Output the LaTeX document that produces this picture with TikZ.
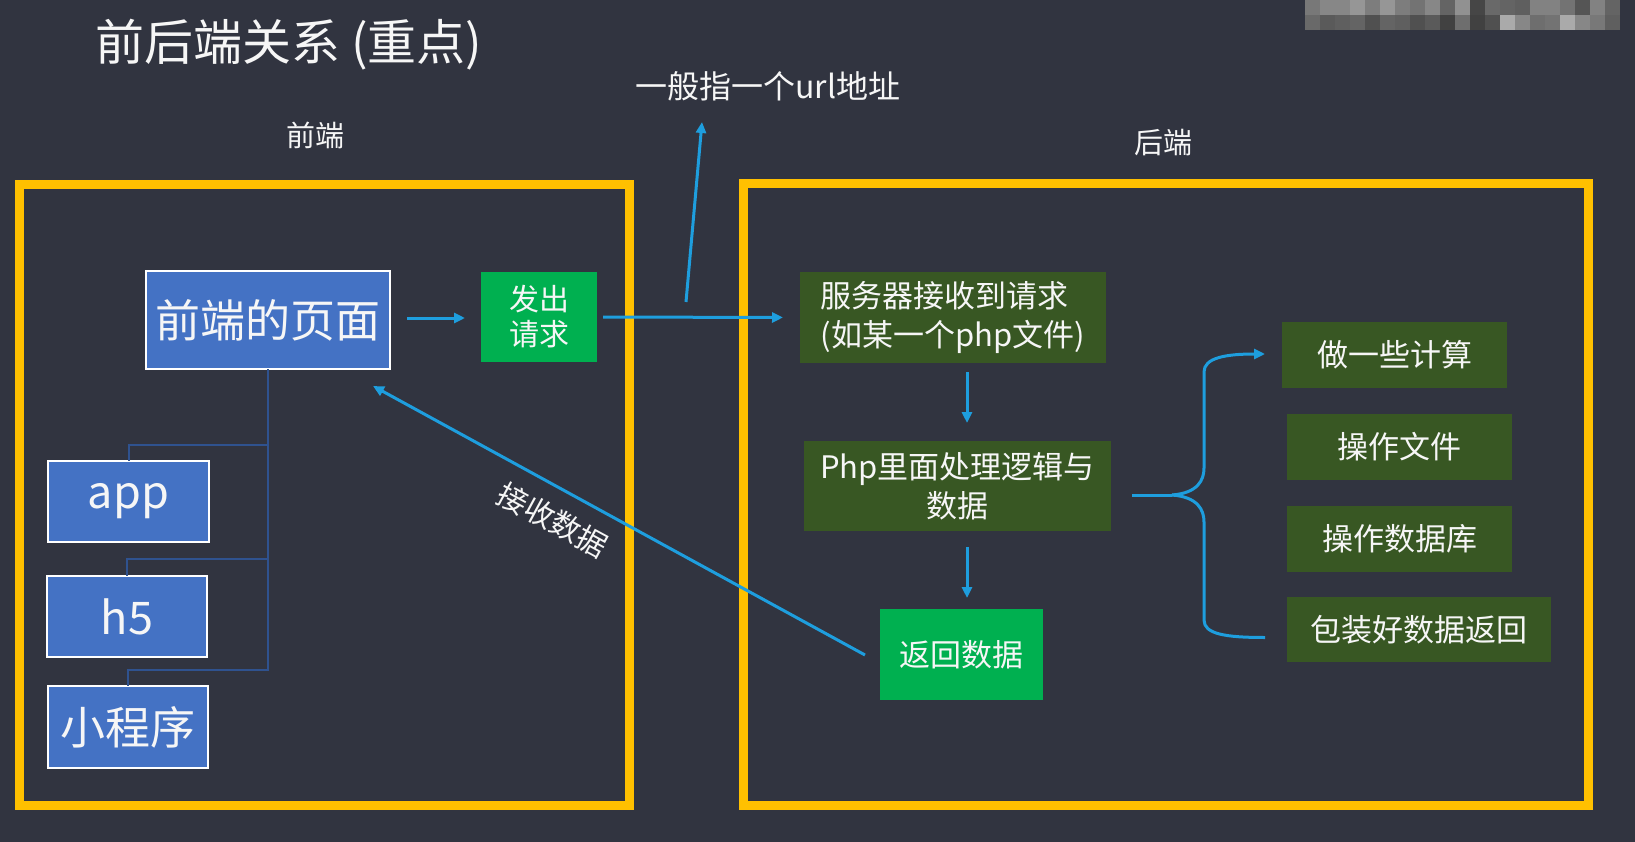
\documentclass[tikz,border=0pt]{standalone}
\usepackage{fontspec}
\setmainfont{Noto Sans CJK SC}
\usetikzlibrary{arrows.meta,calc}

\definecolor{bg}{RGB}{49,52,64}
\definecolor{frame}{RGB}{255,192,0}
\definecolor{pageblue}{RGB}{68,114,196}
\definecolor{brightgreen}{RGB}{0,176,80}
\definecolor{darkgreen}{RGB}{56,87,35}
\definecolor{flow}{RGB}{30,158,222}
\definecolor{treeblue}{RGB}{47,82,143}
\definecolor{ink}{RGB}{246,246,246}

\tikzset{
  panel/.style={draw=frame, line width=9pt},
  box/.style={inner sep=0pt, outer sep=0pt, text=ink, align=center},
  bluebox/.style={box, fill=pageblue, draw=white, line width=2.5pt,
    font=\fontsize{45}{54}\selectfont},
  greenbox/.style={box, fill=brightgreen, font=\fontsize{31}{38}\selectfont},
  darkbox/.style={box, fill=darkgreen, font=\fontsize{31}{39}\selectfont},
  caption/.style={inner sep=0pt, text=ink},
  flowline/.style={draw=flow, line width=3pt},
  arrow/.style={flowline, -{Triangle[length=11pt,width=10pt]}},
  tree/.style={draw=treeblue, line width=2pt},
}

\begin{document}
\begin{tikzpicture}[x=1pt,y=-1pt]
  \useasboundingbox (0,0) rectangle (1635,842);
  \fill[bg] (0,0) rectangle (1635,842);

  % mosaic patch in the top right corner
  \foreach \g [count=\i from 0] in {120,135,135,150,125,150,125,115,135,100,145,70,105,100,95,130,130,115,85,130,100}{
    \definecolor{mosaic}{RGB}{\g,\g,\g}
    \fill[mosaic] (1305+15*\i,0) rectangle ++(15,15);
  }
  \foreach \g [count=\i from 0] in {105,90,95,100,80,100,95,80,90,65,110,65,80,170,135,110,115,170,135,120,95}{
    \definecolor{mosaic}{RGB}{\g,\g,\g}
    \fill[mosaic] (1305+15*\i,15) rectangle ++(15,15);
  }

  % the two panels
  \draw[panel] (19,185) rectangle (629,805);
  \draw[panel] (743,184) rectangle (1588,805);

  % headings
  \node[caption, anchor=west, font=\fontsize{49}{58}\selectfont] (title) at (95,45) {前后端关系 (重点)};
  \node[caption, font=\fontsize{32}{38}\selectfont] (url) at (768,86) {一般指一个url地址};
  \node[caption, font=\fontsize{29}{35}\selectfont] (fe) at (315,135) {前端};
  \node[caption, font=\fontsize{29}{35}\selectfont] (be) at (1163,143) {后端};

  % front end
  \node[bluebox, minimum width=244pt, minimum height=98pt] (page) at (268,320) {前端的页面};
  \node[bluebox, minimum width=161pt, minimum height=81pt] (app) at (128.5,501.5) {app};
  \node[bluebox, minimum width=160pt, minimum height=81pt] (h5) at (127,616.5) {h5};
  \node[bluebox, minimum width=160pt, minimum height=82pt] (mp) at (128,727) {小程序};
  \node[greenbox, font=\fontsize{30}{35}\selectfont, minimum width=116pt, minimum height=90pt] (send) at (539,317) {发出\\请求};

  % back end
  \node[darkbox, align=left, minimum width=306pt, minimum height=91pt] (server) at (953,317.5) {服务器接收到请求\\(如某一个php文件)};
  \node[darkbox, minimum width=307pt, minimum height=90pt] (php) at (957.5,486) {Php里面处理逻辑与\\数据};
  \node[greenbox, minimum width=163pt, minimum height=91pt] (ret) at (961.5,654.5) {返回数据};
  \node[darkbox, minimum width=225pt, minimum height=66pt] (compute) at (1394.5,355) {做一些计算};
  \node[darkbox, minimum width=225pt, minimum height=66pt] (files) at (1399.5,447) {操作文件};
  \node[darkbox, minimum width=225pt, minimum height=66pt] (db) at (1399.5,539) {操作数据库};
  \node[darkbox, minimum width=264pt, minimum height=65pt] (pack) at (1419,629.5) {包装好数据返回};

  % page tree
  \draw[tree] (page.south) |- ($(app.north)+(0,-16)$) -- (app.north);
  \draw[tree] (page.south) |- ($(h5.north)+(0,-17)$) -- (h5.north);
  \draw[tree] (page.south) |- ($(mp.north)+(0,-16)$) -- (mp.north);

  % request flow
  \draw[arrow] ($(page.east)+(17,-2)$) -- ($(send.west)+(-16,1)$);
  \draw[arrow] ($(send.east)+(6,0)$) -- ($(server.west)+(-17,0)$);
  \coordinate (urlfoot) at (686,302);
  \coordinate (urltip) at (702,122);
  \draw[arrow] (urlfoot) -- (urltip);
  \draw[arrow] ($(server.south)+(14,9)$) -- ($(php.north)+(9.5,-18)$);
  \draw[arrow] ($(php.south)+(9.5,16)$) -- ($(ret.north)+(5.5,-11)$);

  % response back to the page
  \draw[arrow] ($(ret.west)+(-15,0.5)$) -- ($(page.south east)+(-17,17)$);
  \node[caption, rotate=-28.5, font=\fontsize{30}{36}\selectfont] (recv) at (553,520) {接收数据};

  % brace fanning out to the tasks
  \coordinate (cusp) at ($(php.east)+(61,9)$);
  \draw[flowline] ($(php.east)+(21,9)$) -- (cusp);
  \draw[arrow] (cusp) .. controls +(26,-2) and +(0,12) .. (1204,468)
    -- (1204,372) .. controls +(0,-14) and +(-40,0) .. ($(compute.west)+(-17,-1)$);
  \draw[flowline] (cusp) .. controls +(26,2) and +(0,-12) .. (1204,522)
    -- (1204,620) .. controls +(0,14) and +(-40,0) .. ($(pack.west)+(-22,8)$);
\end{tikzpicture}
\end{document}
